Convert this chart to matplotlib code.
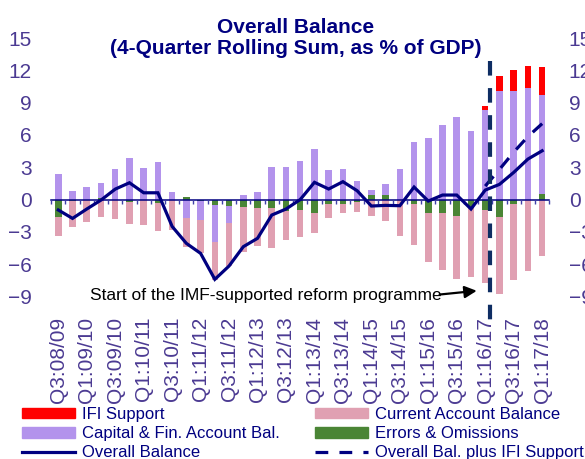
import numpy as np
import matplotlib
matplotlib.use('Agg')
import matplotlib.pyplot as plt
from matplotlib.patches import Patch
from matplotlib.lines import Line2D

plt.rcParams['font.family'] = ['Liberation Sans', 'DejaVu Sans']

# 4-quarter rolling sums, % of GDP, Q3:08/09 .. Q1:17/18
tick_labels = ['Q3:08/09', 'Q1:09/10', 'Q3:09/10', 'Q1:10/11', 'Q3:10/11', 'Q1:11/12',
               'Q3:11/12', 'Q1:12/13', 'Q3:12/13', 'Q1:13/14', 'Q3:13/14', 'Q1:14/15',
               'Q3:14/15', 'Q1:15/16', 'Q3:15/16', 'Q1:16/17', 'Q3:16/17', 'Q1:17/18']

errors = [-1.6, -0.15, -0.05, 0.1, 0.0, -0.2, -0.05, -0.35, 0.0, 0.25, -0.15, -0.5,
          -0.6, -0.73, -0.77, -0.83, -1.1, -0.97, -1.28, -0.45, -0.45, -0.25, 0.42, 0.46,
          0.0, -0.43, -1.28, -1.22, -1.53, -0.82, -0.97, -1.59, -0.42, 0.0, 0.51]
capital = [2.4, 0.8, 1.13, 1.45, 2.8, 3.82, 2.95, 3.48, 0.67, -1.75, -1.75, -3.4,
           -1.6, 0.42, 0.7, 3.05, 2.98, 3.6, 4.69, 2.74, 2.86, 1.75, 0.46, 0.98,
           2.8, 5.31, 5.68, 6.92, 7.69, 6.39, 8.31, 10.1, 10.1, 10.32, 9.19]
current = [-1.8, -2.4, -2.0, -1.6, -1.85, -2.1, -2.35, -2.6, -2.85, -2.7, -3.05, -3.55,
           -3.95, -4.1, -3.55, -3.7, -2.7, -2.55, -1.86, -1.3, -0.83, -0.95, -1.53, -1.95,
           -3.38, -3.79, -4.52, -5.33, -5.88, -6.41, -6.81, -7.21, -7.05, -6.6, -5.25]
ifi = [0.0] * 30 + [0.37, 1.37, 1.92, 2.1, 2.57]
overall = [-0.97, -1.75, -0.88, -0.05, 0.97, 1.56, 0.63, 0.63, -2.5, -4.07, -5.0, -7.41,
           -6.17, -4.38, -3.6, -1.44, -0.88, 0.0, 1.6, 0.98, 1.66, 0.82, -0.6, -0.54,
           -0.57, 1.16, -0.14, 0.42, 0.42, -0.88, 0.88, 1.41, 2.52, 3.76, 4.53]
overall_ifi = [1.25, 2.8, 4.4, 5.85, 7.05]   # from Q4:16/17 on

navy = '#000080'
lab_col = '#4B3A92'

fig = plt.figure(figsize=(5.85, 4.59), dpi=100)
ax = fig.add_axes([0.0802, 0.319, 0.866, 0.598])

x = np.arange(len(overall))
w = 0.46
pos = np.zeros(len(x))
neg = np.zeros(len(x))
series = [(errors, '#4A8535'), (capital, '#B393EC'), (current, '#E0A0B2'), (ifi, '#FF0000')]
for vals, col in series:
    v = np.array(vals)
    base = np.where(v >= 0, pos, neg)
    ax.bar(x, v, w, bottom=base, color=col, edgecolor='none', zorder=2)
    pos = pos + np.clip(v, 0, None)
    neg = neg + np.clip(v, None, 0)

# zero line with category ticks
ax.plot([-0.5, len(x) - 0.5], [0, 0], color=navy, lw=1.1, zorder=3)
ax.vlines(np.arange(len(x) + 1) - 0.5, -0.45, 0, color='#4040A8', lw=1, zorder=3)

ax.plot(x, overall, color=navy, lw=2.3, zorder=4, solid_joinstyle='miter')
ax.plot(x[30:], overall_ifi, color=navy, lw=2.3, dashes=(4, 3.5), zorder=4)

# start of programme
ax.plot([30.35, 30.35], [12.9, -11.2], color='#0E2D63', lw=3, dashes=(3.5, 3), zorder=5,
        clip_on=False)
ax.text(2.2, -8.95, 'Start of the IMF-supported reform programme', fontsize=12.5,
        va='center', ha='left', color='black')
ax.annotate('', xy=(29.6, -8.45), xytext=(26.6, -8.85),
            arrowprops=dict(arrowstyle='-|>', color='black', lw=1.6, mutation_scale=18))

ax.set_xlim(-0.8, len(x) - 0.2)
ax.set_ylim(-10.5, 15)
ax.set_yticks(np.arange(-9, 16, 3))
ax.set_xticks(np.arange(0, len(x), 2))
ax.set_xticklabels(tick_labels, rotation=90, fontsize=15, color=lab_col)
ax.tick_params(axis='y', length=0, labelsize=15, labelcolor=lab_col, pad=11,
               labelright=True)
ax.tick_params(axis='x', length=0, pad=3)
for s in ax.spines.values():
    s.set_visible(False)

fig.text(0.505, 0.941, 'Overall Balance', ha='center', va='center', fontsize=15,
         fontweight='bold', color=navy)
fig.text(0.505, 0.895, '(4-Quarter Rolling Sum, as % of GDP)', ha='center', va='center',
         fontsize=15, fontweight='bold', color=navy)

handles = [Patch(color='#FF0000'), Patch(color='#B393EC'),
           Line2D([], [], color=navy, lw=2.3),
           Patch(color='#E0A0B2'), Patch(color='#4A8535'),
           Line2D([], [], color=navy, lw=2.3, dashes=(4, 3.5))]
names = ['IFI Support', 'Capital & Fin. Account Bal.', 'Overall Balance',
         'Current Account Balance', 'Errors & Omissions', 'Overall Bal. plus IFI Support']
leg = fig.legend(handles, names, ncol=2, loc='upper left',
                 bbox_to_anchor=(22 / 585, 1 - 407 / 459),
                 frameon=False, fontsize=12, handlelength=3.2, handleheight=0.6,
                 handletextpad=0.4, columnspacing=2.1, labelspacing=0.25, borderpad=0,
                 borderaxespad=0)
for t in leg.get_texts():
    t.set_color(navy)

fig.savefig('out.png', dpi=100)
